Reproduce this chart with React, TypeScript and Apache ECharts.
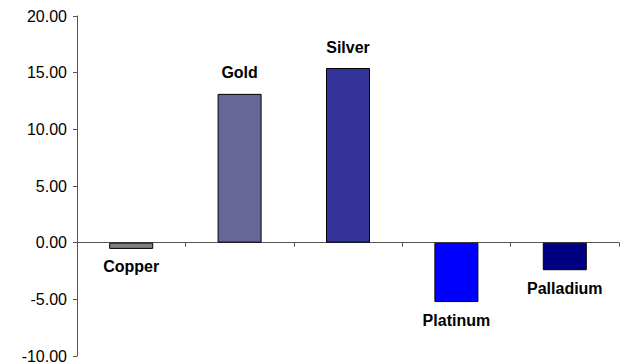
import React, { useEffect, useRef } from "react";
import * as echarts from "echarts";

const categories = ["Copper", "Gold", "Silver", "Platinum", "Palladium"];
const values = [-0.55, 13.13, 15.41, -5.24, -2.43];
const colors = ["#808080", "#666699", "#333399", "#0000FF", "#000080"];
const yTicks = { min: -10, max: 20, interval: 5 };

export default function App() {
  const ref = useRef<HTMLDivElement>(null);
  useEffect(() => {
    document.body.style.margin = "0";
    const chart = echarts.init(ref.current!, null, { renderer: "svg" });
    const font = "Arial, 'Liberation Sans', sans-serif";
    chart.setOption({
      animation: false,
      backgroundColor: "#ffffff",
      grid: { left: 77, right: 6, top: 16, bottom: 6, containLabel: false },
      xAxis: {
        type: "category",
        data: categories,
        axisLine: { onZero: true, lineStyle: { color: "#555555", width: 1 } },
        axisTick: { show: true, alignWithLabel: false, length: 4, lineStyle: { color: "#555555" } },
        axisLabel: { show: false },
        splitLine: { show: false },
      },
      yAxis: {
        type: "value",
        min: yTicks.min,
        max: yTicks.max,
        interval: yTicks.interval,
        axisLine: { show: true, lineStyle: { color: "#555555", width: 1 } },
        axisTick: { show: true, length: 4, lineStyle: { color: "#555555" } },
        axisLabel: {
          color: "#000000",
          fontFamily: font,
          fontSize: 16,
          margin: 10,
          formatter: (v: number) => v.toFixed(2),
        },
        splitLine: { show: false },
      },
      series: [
        {
          type: "bar",
          barWidth: 44,
          data: values.map((v, i) => ({
            value: v,
            itemStyle: { color: colors[i], borderColor: "#000000", borderWidth: 1 },
            label: {
              show: true,
              position: v >= 0 ? "top" : "bottom",
              distance: v >= 0 ? 13 : 10,
              formatter: categories[i],
              fontFamily: font,
              fontWeight: "bold",
              fontSize: 16,
              color: "#000000",
            },
          })),
        },
      ],
    });
    return () => chart.dispose();
  }, []);
  return <div ref={ref} style={{ width: 625, height: 364 }} />;
}
